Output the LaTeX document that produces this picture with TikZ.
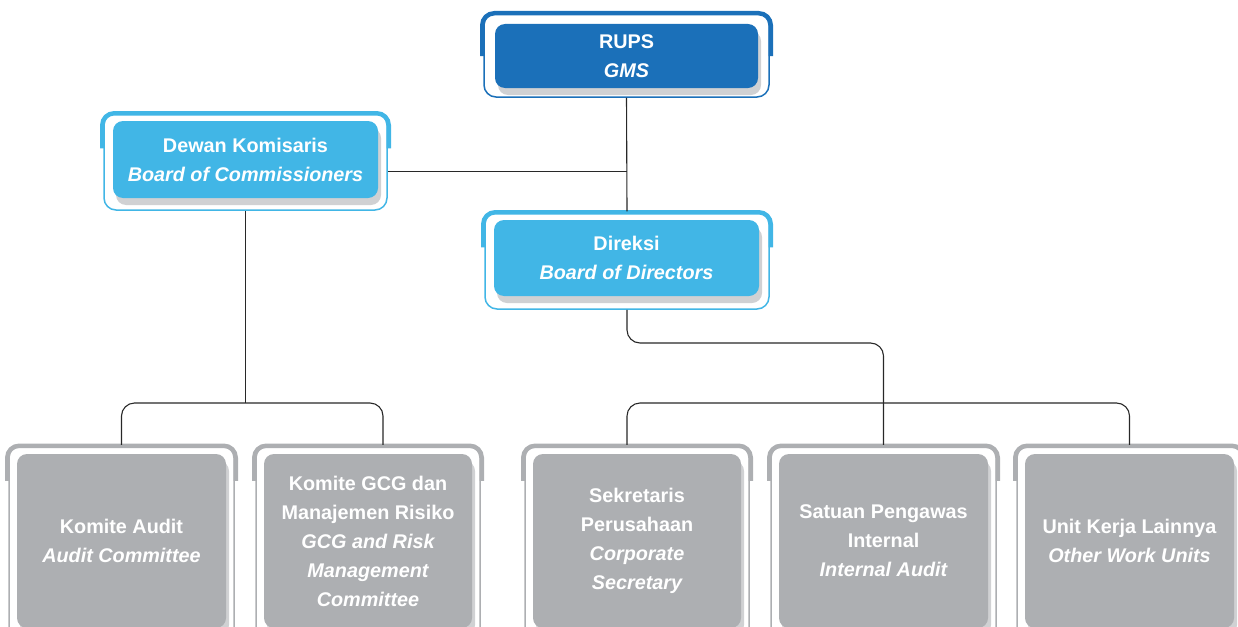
\documentclass[tikz,border=0pt]{standalone}
\usepackage{fontspec}
\setmainfont{Liberation Sans}
\usetikzlibrary{calc,shadows}
\definecolor{dblue}{RGB}{27,112,185}
\definecolor{lblue}{RGB}{65,182,230}
\definecolor{bgray}{RGB}{173,175,178}
\definecolor{sgray}{RGB}{208,209,211}
\definecolor{lcol}{RGB}{40,40,40}
\tikzset{
  frame/.style={draw=#1, line width=1.5pt, rounded corners=12pt, inner sep=0pt, fill=white},
  inbox/.style={fill=#1, rounded corners=10pt, inner sep=0pt, text=white, align=center,
    font=\fontsize{19.8}{29}\selectfont\bfseries,
    drop shadow={shadow xshift=3pt, shadow yshift=-7pt, opacity=1, fill=sgray}},
  conn/.style={draw=lcol, line width=1.1pt}
}
\newcommand{\thicktop}[3]{%
  \draw[#2, line width=4.5pt, rounded corners=12pt]
    ($(#1.north west)+(-1,#3)$) -- ($(#1.north west)+(-1,1)$) -- ($(#1.north east)+(1,1)$) -- ($(#1.north east)+(1,#3)$);}
\begin{document}
\begin{tikzpicture}[x=1pt,y=-1pt]
\useasboundingbox (0,0) rectangle (1238,626);
\clip (0,0) rectangle (1238,626);
% RUPS
\node[frame=dblue, minimum width=285pt, minimum height=84pt] (rupsF) at (626.5,55) {};
\thicktop{rupsF}{dblue}{44}
\node[inbox=dblue, minimum width=263pt, minimum height=64pt] (rups) at (626.5,56) {RUPS\\\itshape GMS};
% Dewan Komisaris
\node[frame=lblue, minimum width=283pt, minimum height=97pt] (dkF) at (245.5,161.5) {};
\thicktop{dkF}{lblue}{36}
\node[inbox=lblue, minimum width=265pt, minimum height=77pt] (dk) at (245.5,159.5) {Dewan Komisaris\\\itshape Board of Commissioners};
% Direksi
\node[frame=lblue, minimum width=284pt, minimum height=97pt] (dirF) at (627,260.5) {};
\thicktop{dirF}{lblue}{36}
\node[inbox=lblue, minimum width=265pt, minimum height=76pt] (dir) at (626.5,258) {Direksi\\\itshape Board of Directors};
% bottom boxes
\node[frame=bgray, minimum width=225pt, minimum height=215pt] (auF) at (121.5,553) {};
\thicktop{auF}{bgray}{36}
\node[inbox=bgray, minimum width=209pt, minimum height=174pt] (au) at (121.5,541) {Komite Audit\\\itshape Audit Committee};
\node[frame=bgray, minimum width=224pt, minimum height=215pt] (gcgF) at (368,553) {};
\thicktop{gcgF}{bgray}{36}
\node[inbox=bgray, minimum width=208pt, minimum height=174pt] (gcg) at (368,541) {Komite GCG dan\\Manajemen Risiko\\\itshape GCG and Risk\\\itshape Management\\\itshape Committee};
\node[frame=bgray, minimum width=224pt, minimum height=215pt] (sekF) at (637,553) {};
\thicktop{sekF}{bgray}{36}
\node[inbox=bgray, minimum width=208pt, minimum height=174pt] (sek) at (637,541) {Sekretaris\\Perusahaan\\\itshape Corporate\\\itshape Secretary};
\node[frame=bgray, minimum width=225pt, minimum height=215pt] (intF) at (883.5,553) {};
\thicktop{intF}{bgray}{36}
\node[inbox=bgray, minimum width=209pt, minimum height=174pt] (int) at (883.5,541) {Satuan Pengawas\\Internal\\\itshape Internal Audit};
\node[frame=bgray, minimum width=225pt, minimum height=215pt] (unitF) at (1129.5,553) {};
\thicktop{unitF}{bgray}{36}
\node[inbox=bgray, minimum width=209pt, minimum height=174pt] (unit) at (1129.5,541) {Unit Kerja Lainnya\\\itshape Other Work Units};
% connectors
\coordinate (barL) at (0,403);
\coordinate (barD) at (0,343);
\coordinate (gcgX) at ($(gcgF.north)+(15,0)$);
\coordinate (dkX) at ($(dkF.east)+(0,10)$);
\draw[conn] (rupsF.south) -- (dirF.north);
\draw[conn] (dkX) -- (dkX -| rupsF.south);
\draw[conn] (dkF.south) -- (dkF.south |- barL);
\draw[conn, rounded corners=13pt] (auF.north) -- (auF.north |- barL) -- (gcgX |- barL) -- (gcgX);
\draw[conn, rounded corners=13pt] (dirF.south) -- (dirF.south |- barD) -- (intF.north |- barD) -- (intF.north);
\draw[conn, rounded corners=13pt] (sekF.north -| dirF.south) -- (dirF.south |- barL) -- (unitF.north |- barL) -- (unitF.north);
\end{tikzpicture}
\end{document}
